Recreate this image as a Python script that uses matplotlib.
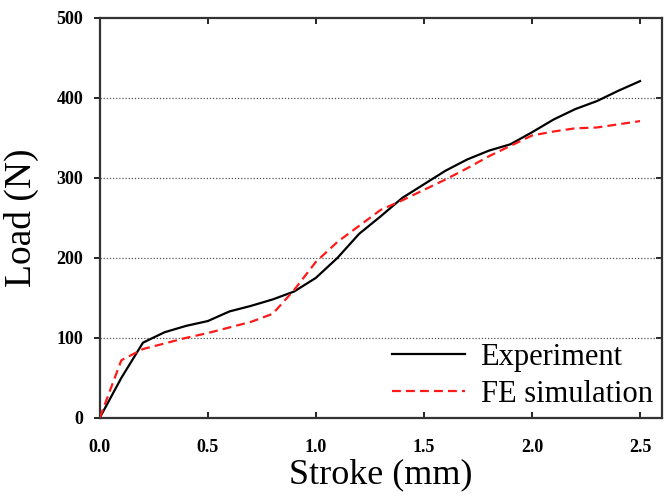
import matplotlib
matplotlib.use("Agg")
import matplotlib.pyplot as plt

# stroke positions (mm)
stroke = [0.0, 0.1, 0.2, 0.3, 0.4, 0.5, 0.6, 0.7, 0.8, 0.9, 1.0, 1.1, 1.2,
          1.3, 1.4, 1.5, 1.6, 1.7, 1.8, 1.9, 2.0, 2.1, 2.2, 2.3, 2.4, 2.5]

# load values (N)
experiment = [0, 50, 94, 107, 115, 121, 133, 140, 148, 158, 175, 200, 230,
              252, 275, 292, 309, 323, 334, 342, 357, 373, 386, 396, 409, 421]
fe_sim = [0, 72, 86, 93, 100, 106, 113, 120, 130, 160, 195, 220, 240,
          260, 272, 285, 298, 312, 327, 340, 353, 358, 362, 363, 367, 371]

xticks = [0.0, 0.5, 1.0, 1.5, 2.0, 2.5]
yticks = [0, 100, 200, 300, 400, 500]

plt.rcParams['font.family'] = ['Liberation Serif', 'DejaVu Serif']

fig = plt.figure(figsize=(6.65, 4.98), dpi=100)
ax = fig.add_axes([0.150, 0.161, 0.845, 0.803])

for y in yticks[1:-1]:
    ax.axhline(y, color="#555555", linestyle=(0, (1, 1.5)), linewidth=0.9, zorder=1)

ax.plot(stroke, experiment, color="black", linestyle="-", linewidth=1.6,
        label="Experiment", zorder=3)
ax.plot(stroke, fe_sim, color="#ff1a1a", linestyle=(0, (4, 2.3)), linewidth=1.6,
        label="FE simulation", zorder=4)

ax.set_xlim(0, 2.6)
ax.set_ylim(0, 500)
ax.set_xticks(xticks)
ax.set_yticks(yticks)
ax.set_xticklabels(["%.1f" % t for t in xticks], fontweight="bold", fontsize=13)
ax.set_yticklabels([str(t) for t in yticks], fontweight="bold", fontsize=13)

ax.tick_params(axis="x", direction="in", top=True, length=4, width=1.2, pad=15)
ax.tick_params(axis="y", which="both", left=True, right=False, direction="out",
               length=4, width=1.2, pad=8)
ax2 = ax.secondary_yaxis("right")
ax2.set_yticks(yticks)
ax2.tick_params(direction="in", length=4, width=1.2, labelright=False)

for s in ax.spines.values():
    s.set_linewidth(1.6)
    s.set_color("#333333")
ax2.spines["right"].set_visible(False)

ax.set_xlabel("Stroke (mm)", fontsize=26, labelpad=2)
ax.set_ylabel("Load (N)", fontsize=27)
ax.yaxis.set_label_coords(-0.108, 0.5)

ax.legend(loc="lower right", fontsize=22, frameon=False,
          borderaxespad=0.1, handlelength=2.4, handletextpad=0.5,
          borderpad=0.2, labelspacing=0.25)

fig.savefig("out.png", dpi=100)
